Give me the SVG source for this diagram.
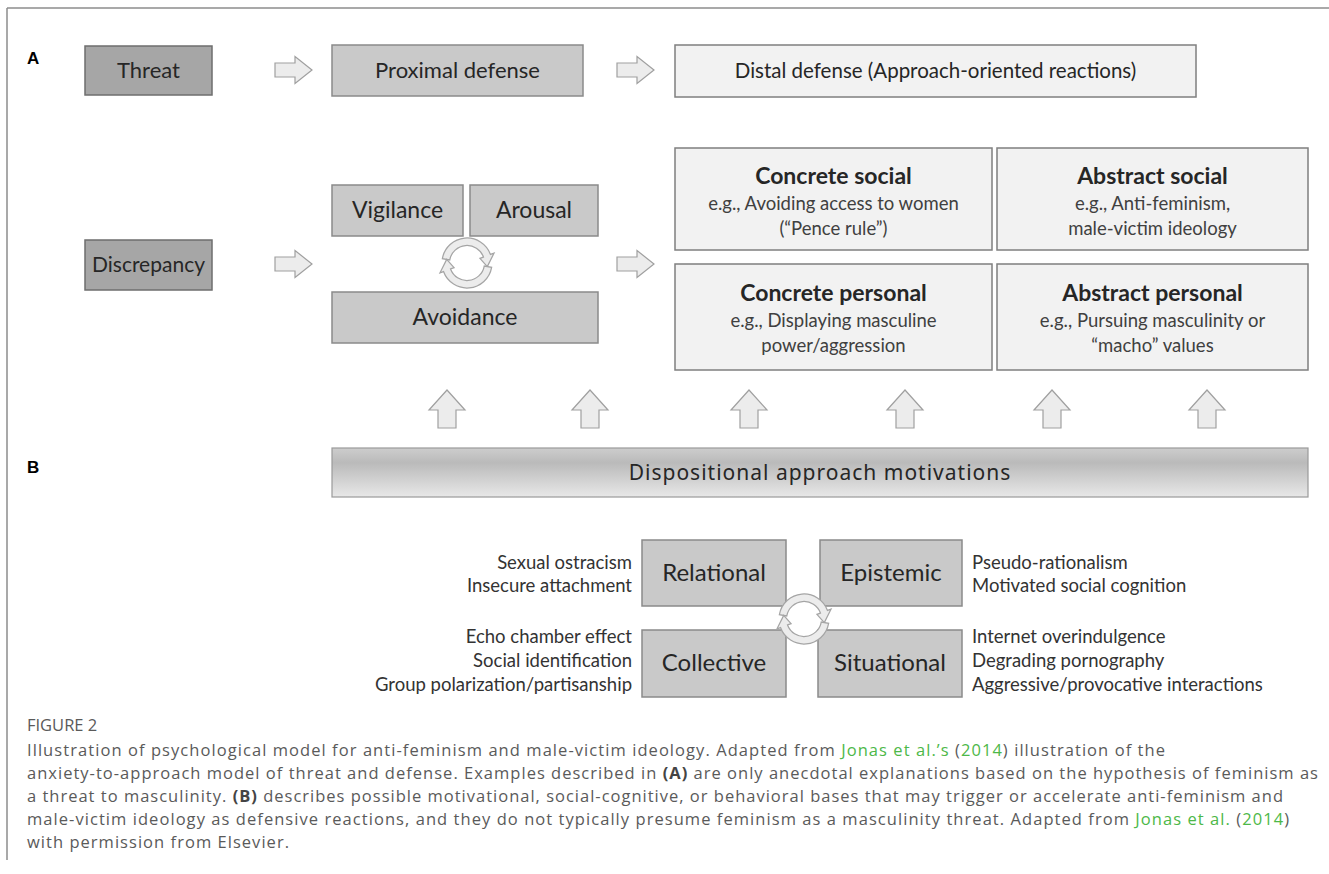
<svg xmlns="http://www.w3.org/2000/svg" width="1329" height="874" viewBox="0 0 1329 874">
<style>
.frame{stroke:#8c8c8c;stroke-width:1.5;fill:none}
.dark{fill:#a6a6a6;stroke:#6e6e6e;stroke-width:1.5}
.mid{fill:#c9c9c9;stroke:#8a8a8a;stroke-width:1.5}
.light{fill:#f2f2f2;stroke:#7f7f7f;stroke-width:1.5}
.arr{fill:#ececec;stroke:#a0a0a0;stroke-width:1.2}
.cyc{fill:#ececec;stroke:#a5a5a5;stroke-width:1}
.t{font-family:Lato,"Liberation Sans",sans-serif;fill:#262626;text-anchor:middle}
.big{font-size:22px}
.ttl{font-size:23px;font-weight:bold}
.sub{font-size:18.5px;fill:#404040}
.side{font-family:Lato,"Liberation Sans",sans-serif;font-size:18.5px;fill:#333}
.lab{font-family:"Liberation Sans",Arial,sans-serif;font-weight:bold;font-size:17px;fill:#000}
.cap{font-family:"Open Sans",Lato,sans-serif;font-size:16.5px;fill:#5a5a5a}
.g{fill:#4db848}
.b{font-weight:bold;fill:#444}
</style>
<defs>
<linearGradient id="grad" x1="0" y1="0" x2="0" y2="1">
<stop offset="0" stop-color="#cdcdcd"/>
<stop offset="0.3" stop-color="#bababa"/>
<stop offset="1" stop-color="#e8e8e8"/>
</linearGradient>
<path id="rarrow" d="M0,-7 L20,-7 L20,-13.5 L37,0 L20,13.5 L20,7 L0,7 Z"/>
<path id="uarrow" d="M-9,19 L-9,1 L-18,1 L0,-19 L18,1 L9,1 L9,19 Z"/>
<g id="cycle">
<path class="cyc" d="M-19.70,-3.47 A20 20 0 0 1 18.79,-6.84 L21.61,-7.87 L16.25,2.87 L10.34,-3.76 L13.16,-4.79 A14 14 0 0 0 -13.79,-2.43 Z"/>
<path class="cyc" d="M19.70,3.47 A20 20 0 0 1 -18.79,6.84 L-21.61,7.87 L-16.25,-2.87 L-10.34,3.76 L-13.16,4.79 A14 14 0 0 0 13.79,2.43 Z"/>
</g>
</defs>

<g id="frame">
<line class="frame" x1="7" y1="8" x2="1329" y2="8"/>
<line class="frame" x1="7" y1="8" x2="7" y2="860"/>
</g>

<text class="lab" x="27" y="64">A</text>
<text class="lab" x="27" y="473">B</text>

<g id="threat"><rect class="dark" x="85" y="46" width="127" height="49"/><text class="t big" x="148.5" y="78">Threat</text></g>
<g id="proximal"><rect class="mid" x="332" y="45" width="251" height="51"/><text class="t big" x="457.5" y="78">Proximal defense</text></g>
<g id="distal"><rect class="light" x="675" y="45" width="521" height="52"/><text class="t" font-size="20.5" x="935.5" y="78">Distal defense (Approach-oriented reactions)</text></g>

<g id="discrepancy"><rect class="dark" x="85" y="240" width="127" height="50"/><text class="t" font-size="21" x="148.5" y="272">Discrepancy</text></g>
<g id="vigilance"><rect class="mid" x="332" y="185" width="131" height="51"/><text class="t" font-size="23" x="397.5" y="218">Vigilance</text></g>
<g id="arousal"><rect class="mid" x="470" y="185" width="128" height="51"/><text class="t" font-size="23" x="534" y="218">Arousal</text></g>
<g id="avoidance"><rect class="mid" x="332" y="292" width="266" height="51"/><text class="t" font-size="23" x="465" y="325">Avoidance</text></g>

<g id="concrete-social"><rect class="light" x="675" y="148" width="317" height="102"/>
<text class="t ttl" x="833.5" y="184">Concrete social</text>
<text class="t sub" x="833.5" y="210">e.g., Avoiding access to women</text>
<text class="t sub" x="833.5" y="235">(“Pence rule”)</text></g>
<g id="abstract-social"><rect class="light" x="997" y="148" width="311" height="102"/>
<text class="t ttl" x="1152.5" y="184">Abstract social</text>
<text class="t sub" x="1152.5" y="210">e.g., Anti-feminism,</text>
<text class="t sub" x="1152.5" y="235">male-victim ideology</text></g>
<g id="concrete-personal"><rect class="light" x="675" y="264" width="317" height="106"/>
<text class="t ttl" x="833.5" y="301">Concrete personal</text>
<text class="t sub" x="833.5" y="327">e.g., Displaying masculine</text>
<text class="t sub" x="833.5" y="352">power/aggression</text></g>
<g id="abstract-personal"><rect class="light" x="997" y="264" width="311" height="106"/>
<text class="t ttl" x="1152.5" y="301">Abstract personal</text>
<text class="t sub" x="1152.5" y="327">e.g., Pursuing masculinity or</text>
<text class="t sub" x="1152.5" y="352">“macho” values</text></g>

<g id="dispositional"><rect x="332" y="448" width="976" height="49" fill="url(#grad)" stroke="#9a9a9a" stroke-width="1.2"/>
<text x="820" y="480" text-anchor="middle" font-family="'Noto Sans','Open Sans',sans-serif" font-size="21" letter-spacing="1" fill="#262626">Dispositional approach motivations</text></g>

<g id="relational"><rect class="mid" x="642" y="540" width="144" height="66"/><text class="t" font-size="24" x="714" y="581">Relational</text></g>
<g id="epistemic"><rect class="mid" x="820" y="540" width="142" height="66"/><text class="t" font-size="24" x="891" y="581">Epistemic</text></g>
<g id="collective"><rect class="mid" x="642" y="630" width="144" height="67"/><text class="t" font-size="24" x="714" y="671">Collective</text></g>
<g id="situational"><rect class="mid" x="818" y="630" width="144" height="67"/><text class="t" font-size="24" x="890" y="671">Situational</text></g>

<g id="side-labels">
<text class="side" text-anchor="end" x="632" y="569">Sexual ostracism</text>
<text class="side" text-anchor="end" x="632" y="592">Insecure attachment</text>
<text class="side" text-anchor="end" x="632" y="643">Echo chamber effect</text>
<text class="side" text-anchor="end" x="632" y="667">Social identification</text>
<text class="side" text-anchor="end" x="632" y="691">Group polarization/partisanship</text>
<text class="side" x="972" y="569">Pseudo-rationalism</text>
<text class="side" x="972" y="592">Motivated social cognition</text>
<text class="side" x="972" y="643">Internet overindulgence</text>
<text class="side" x="972" y="667">Degrading pornography</text>
<text class="side" x="972" y="691">Aggressive/provocative interactions</text>
</g>

<g id="connectors">
<use href="#rarrow" class="arr" x="275" y="70"/>
<use href="#rarrow" class="arr" x="617" y="70"/>
<use href="#rarrow" class="arr" x="275" y="264"/>
<use href="#rarrow" class="arr" x="617" y="264"/>
<use href="#uarrow" class="arr" x="447" y="409"/>
<use href="#uarrow" class="arr" x="590" y="409"/>
<use href="#uarrow" class="arr" x="749" y="409"/>
<use href="#uarrow" class="arr" x="905" y="409"/>
<use href="#uarrow" class="arr" x="1052" y="409"/>
<use href="#uarrow" class="arr" x="1207" y="409"/>
<use href="#cycle" transform="translate(467,263) scale(1.25)"/>
<use href="#cycle" transform="translate(804,619) scale(1.25)"/>
</g>

<g id="caption">
<text class="cap" x="27" y="731" font-size="12">FIGURE 2</text>
<text class="cap" x="27" y="756" textLength="1138" lengthAdjust="spacing">Illustration of psychological model for anti-feminism and male-victim ideology. Adapted from <tspan class="g">Jonas et al.’s</tspan> (<tspan class="g">2014</tspan>) illustration of the</text>
<text class="cap" x="27" y="779" textLength="1291" lengthAdjust="spacing">anxiety-to-approach model of threat and defense. Examples described in <tspan class="b">(A)</tspan> are only anecdotal explanations based on the hypothesis of feminism as</text>
<text class="cap" x="27" y="802" textLength="1256" lengthAdjust="spacing">a threat to masculinity. <tspan class="b">(B)</tspan> describes possible motivational, social-cognitive, or behavioral bases that may trigger or accelerate anti-feminism and</text>
<text class="cap" x="27" y="825" textLength="1262" lengthAdjust="spacing">male-victim ideology as defensive reactions, and they do not typically presume feminism as a masculinity threat. Adapted from <tspan class="g">Jonas et al.</tspan> (<tspan class="g">2014</tspan>)</text>
<text class="cap" x="27" y="848" textLength="262" lengthAdjust="spacing">with permission from Elsevier.</text>
</g>
</svg>
